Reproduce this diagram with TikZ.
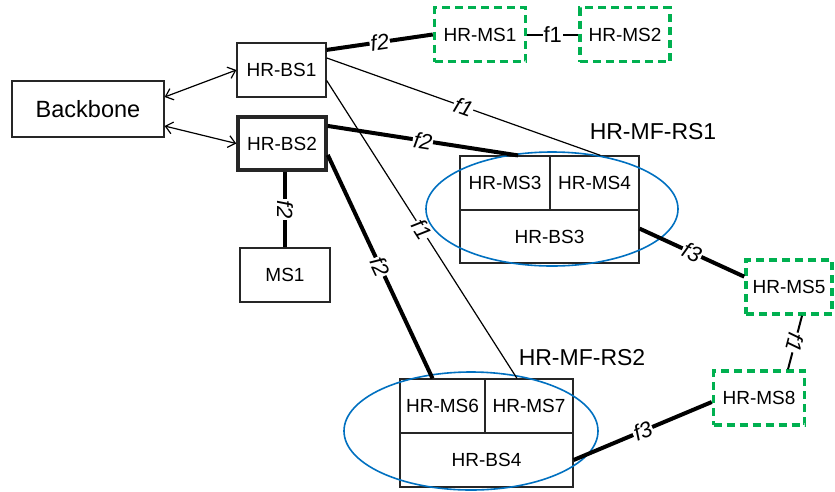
\documentclass[tikz,border=0pt]{standalone}
\usepackage{fontspec}
\setmainfont{Liberation Sans}
\usetikzlibrary{arrows.meta}

\tikzset{
  box/.style={shape=rectangle, draw=black!85, line width=1.2pt, inner sep=0pt,
    minimum width=90pt, minimum height=54pt, font=\fontsize{19}{22}\selectfont},
  msbox/.style={box, draw={rgb,255:red,0;green,176;blue,80}, line width=3.5pt,
    dash pattern=on 8pt off 5pt},
  group/.style={draw={rgb,255:red,0;green,112;blue,192}, line width=1.6pt},
  link/.style={line width=1.2pt},
  wlink/.style={line width=4pt},
  freq/.style={sloped, fill=white, inner sep=1pt, font=\fontsize{22}{24}\selectfont\itshape}
}

\begin{document}
\begin{tikzpicture}[x=1pt, y=-1pt]
    \useasboundingbox (0,0) rectangle (835,491);
    % stations
    \node[box, minimum width=152pt, minimum height=56pt, font=\fontsize{23.5}{26}\selectfont] at (88,109) (BB) {Backbone};
    \node[box, minimum width=89pt] at (281.5,70) (BS1) {HR-BS1};
    \node[box, line width=3.5pt, minimum width=88pt, minimum height=53pt] at (282,143.5) (BS2) {HR-BS2};
    \node[box] at (285,275) (MS1) {MS1};
    \node[msbox, minimum width=91pt] at (480,34.5) (HMS1) {HR-MS1};
    \node[msbox] at (625,34.5) (HMS2) {HR-MS2};
    \node[msbox, minimum width=86pt] at (789,287) (HMS5) {HR-MS5};
    \node[msbox, minimum width=91pt] at (759,398) (HMS8) {HR-MS8};
    % HR-MF-RS1
    \node[box] at (505,183) (HMS3) {HR-MS3};
    \node[box, minimum width=89pt] at (594.5,183) (HMS4) {HR-MS4};
    \node[box, minimum width=179pt, minimum height=53pt] at (549.5,236.5) (BS3) {HR-BS3};
    \node[font=\fontsize{23}{26}\selectfont] at (653,132) (RS1) {HR-MF-RS1};
    \draw[group] (552,209) ellipse [x radius=126, y radius=57];
    % HR-MF-RS2
    \node[box, minimum width=85pt] at (442.5,406) (HMS6) {HR-MS6};
    \node[box, minimum width=88pt] at (529,406) (HMS7) {HR-MS7};
    \node[box, minimum width=173pt] at (486.5,460) (BS4) {HR-BS4};
    \node[font=\fontsize{23}{26}\selectfont] at (582,358) (RS2) {HR-MF-RS2};
    \draw[group] (471,431) ellipse [x radius=127, y radius=59];
    % links
    \draw[link, {Straight Barb[length=7pt,width=12pt]}-{Straight Barb[length=7pt,width=12pt]}] (BB.east |- 0,97) -- (BS1.west);
    \draw[link, {Straight Barb[length=7pt,width=12pt]}-{Straight Barb[length=7pt,width=12pt]}] (BB.east |- 0,126) -- (BS2.west);
    \path[wlink] (BS1.24) edge node[freq] {f2} (HMS1.west);
    \path[link, line width=2pt] (HMS1.east) edge node[fill=white, inner sep=1pt, font=\fontsize{22}{24}\selectfont] {f1} (HMS2.west);
    \path[link] (BS1.15) edge node[freq] {f1} ([xshift=6]HMS4.north);
    \path[link] (BS1.-13) edge node[freq] {f1} ([xshift=-12]HMS7.north);
    \path[wlink] (BS2.21) edge node[freq] {f2} ([xshift=13]HMS3.north);
    \path[wlink] (BS2.-14) edge node[freq] {f2} ([xshift=-10]HMS6.north);
    \path[wlink] (MS1.north |- BS2.south) edge node[freq] {f2} (MS1.north);
    \path[wlink] (BS3.5) edge node[freq] {f3} (HMS5.167);
    \path[link, line width=2pt] ([xshift=13]HMS5.south) edge node[freq, allow upside down] {f1} ([xshift=29]HMS8.north);
    \path[wlink] (BS4.east) edge node[freq] {f3} ([yshift=-4]HMS8.west);
\end{tikzpicture}
\end{document}
